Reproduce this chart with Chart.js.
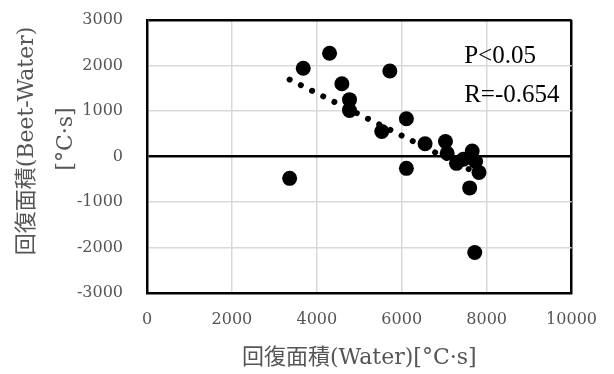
<!DOCTYPE html>
<html>
<head>
<meta charset="utf-8">
<script src="https://cdn.jsdelivr.net/npm/chart.js@4.4.1/dist/chart.umd.min.js"></script>
<style>
  html, body { margin: 0; padding: 0; background: #ffffff; }
  #wrap { width: 614px; height: 374px; position: relative; }
</style>
</head>
<body>
<div id="wrap"><canvas id="c" width="614" height="374"></canvas></div>
<script>
// ---- data ----
const waterArea = [4300, 3680, 5720, 4590, 4770, 4770, 6110, 5530, 6550, 7030, 7070, 7290, 7450, 7660, 7740, 7820, 6110, 3360, 7600, 7720];
const diffArea  = [2270, 1940, 1880, 1600, 1250, 1010, 830, 550, 280, 330, 70, -150, -60, 120, -110, -350, -260, -480, -690, -2110];
const trendX = [3360, 7820];
const trendY = [1690, -390];
const xTicks = [0, 2000, 4000, 6000, 8000, 10000];
const yTicks = [-3000, -2000, -1000, 0, 1000, 2000, 3000];
const xTitle = '回復面積(Water)[°C·s]';
const yTitle = ['回復面積(Beet-Water)', '[°C·s]'];
const statText = ['P<0.05', 'R=-0.654'];

const FONT = '"DejaVu Serif", "Noto Sans CJK JP", serif';
const GRAY = '#555555';

const points = waterArea.map((x, i) => ({ x: x, y: diffArea[i] }));
const trend = trendX.map((x, i) => ({ x: x, y: trendY[i] }));

const extras = {
  id: 'extras',
  afterDraw(chart) {
    const ctx = chart.ctx;
    const xs = chart.scales.x, ys = chart.scales.y;
    ctx.save();
    // stats text
    ctx.fillStyle = '#000000';
    ctx.font = '25px "Liberation Serif", serif';
    ctx.textAlign = 'left';
    ctx.textBaseline = 'alphabetic';
    ctx.fillText(statText[0], xs.getPixelForValue(7470), ys.getPixelForValue(2060));
    ctx.fillText(statText[1], xs.getPixelForValue(7470), ys.getPixelForValue(1200));
    // y title (two lines, rotated)
    ctx.fillStyle = GRAY;
    ctx.font = '22px ' + FONT;
    ctx.textAlign = 'center';
    ctx.textBaseline = 'middle';
    const cy = ys.getPixelForValue(340);
    ctx.translate(27, cy);
    ctx.rotate(-Math.PI / 2);
    ctx.fillText(yTitle[0], 0, 0);
    ctx.fillText(yTitle[1], 2, 39);
    ctx.restore();
  }
};

new Chart(document.getElementById('c'), {
  type: 'scatter',
  data: {
    datasets: [
      {
        label: 'data',
        data: points,
        backgroundColor: '#000000',
        borderColor: '#000000',
        borderWidth: 0,
        pointRadius: 7.5,
        pointHoverRadius: 7.5,
        order: 1
      },
      {
        label: 'trend',
        type: 'line',
        data: trend,
        showLine: true,
        borderColor: '#000000',
        borderWidth: 6,
        borderDash: [0.01, 12.5],
        borderCapStyle: 'round',
        pointRadius: 0,
        fill: false,
        order: 2
      }
    ]
  },
  options: {
    responsive: false,
    animation: false,
    devicePixelRatio: 1,
    layout: { padding: { top: 20, right: 39, left: 0, bottom: 0 } },
    plugins: {
      legend: { display: false },
      tooltip: { enabled: false }
    },
    scales: {
      x: {
        type: 'linear',
        min: 0, max: 10000,
        afterFit: s => { s.height = 81; },
        afterBuildTicks: s => { s.ticks = xTicks.map(v => ({ value: v })); },
        ticks: {
          color: GRAY,
          font: { family: FONT, size: 16 },
          padding: 17,
          maxRotation: 0,
          callback: v => String(v)
        },
        grid: {
          drawTicks: false,
          color: c => (c.tick && (c.tick.value === 10000)) ? '#000000' : '#d9d9d9',
          lineWidth: c => (c.tick && (c.tick.value === 10000)) ? 2.5 : 1.5
        },
        border: { display: true, color: '#000000', width: 2.5 },
        title: {
          display: true,
          text: xTitle,
          color: GRAY,
          font: { family: FONT, size: 22 },
          padding: { top: 0, bottom: 3 }
        }
      },
      y: {
        type: 'linear',
        min: -3000, max: 3000,
        afterFit: s => { s.width = 147; },
        afterBuildTicks: s => { s.ticks = yTicks.map(v => ({ value: v })); },
        ticks: {
          color: GRAY,
          font: { family: FONT, size: 16 },
          padding: 8,
          callback: v => String(v)
        },
        grid: {
          drawTicks: true,
          tickLength: 16,
          tickColor: 'rgba(0,0,0,0)',
          color: c => (c.tick && (c.tick.value === 0 || c.tick.value === 3000)) ? '#000000' : '#d9d9d9',
          lineWidth: c => (c.tick && (c.tick.value === 0 || c.tick.value === 3000)) ? 2.5 : 1.5
        },
        border: { display: true, color: '#000000', width: 2.5 }
      }
    }
  },
  plugins: [extras]
});
</script>
</body>
</html>
